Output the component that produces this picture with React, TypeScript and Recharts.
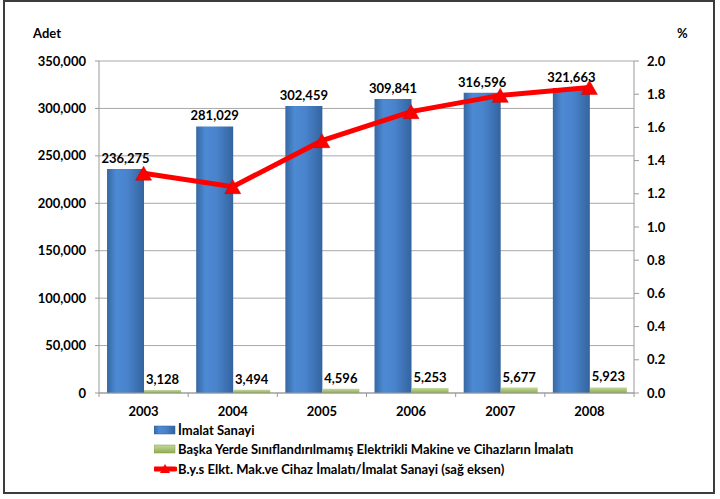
import React from "react";
import {
  ComposedChart,
  Bar,
  Line,
  XAxis,
  YAxis,
  CartesianGrid,
  Legend,
  LabelList,
} from "recharts";

const years = ["2003", "2004", "2005", "2006", "2007", "2008"];
const imalatSanayi = [236275, 281029, 302459, 309841, 316596, 321663];
const elektrikli = [3128, 3494, 4596, 5253, 5677, 5923];
const oran = [1.324, 1.243, 1.52, 1.695, 1.793, 1.841];
const leftTicks = [0, 50000, 100000, 150000, 200000, 250000, 300000, 350000];
const rightTicks = [0, 0.2, 0.4, 0.6, 0.8, 1.0, 1.2, 1.4, 1.6, 1.8, 2.0];

const seriesNames = [
  "İmalat Sanayi",
  "Başka Yerde Sınıflandırılmamış Elektrikli Makine ve Cihazların İmalatı",
  "B.y.s Elkt. Mak.ve Cihaz İmalatı/İmalat Sanayi (sağ eksen)",
];

const data = years.map((y, i) => ({
  year: y,
  imalat: imalatSanayi[i],
  elk: elektrikli[i],
  oran: oran[i],
}));

const FONT = "Lato, 'Open Sans', sans-serif";
const FS = 13;
const fmt = (v: number) => v.toLocaleString("en-US");

const Triangle = (props: any) => {
  const { cx, cy } = props;
  if (cx == null || cy == null) return null;
  return (
    <path
      d={`M${cx},${cy - 7} L${cx + 8},${cy + 7} L${cx - 8},${cy + 7} Z`}
      fill="#ff0000"
      stroke="#d00000"
      strokeWidth={0.5}
    />
  );
};

const XTick = (props: any) => {
  const { x, y, payload, index } = props;
  const half = payload && payload.offset ? payload.offset : 44.6;
  return (
    <g>
      <line x1={x - half} x2={x - half} y1={y - 8} y2={y - 4} stroke="#999" />
      {index === years.length - 1 && (
        <line x1={x + half} x2={x + half} y1={y - 8} y2={y - 4} stroke="#999" />
      )}
      <text
        x={x}
        y={y + 15}
        textAnchor="middle"
        fontFamily={FONT}
        fontWeight={700}
        fontSize={FS}
        fill="#000"
      >
        {payload.value}
      </text>
    </g>
  );
};

const LegendContent = () => (
  <div
    style={{
      height: 79,
      fontFamily: FONT,
      fontWeight: 700,
      fontSize: FS,
      color: "#000",
      boxSizing: "border-box",
    }}
  >
    {seriesNames.map((n, i) => (
      <div
        key={n}
        style={{ display: "flex", alignItems: "center", height: 19.5, whiteSpace: "nowrap" }}
      >
        <svg width={23} height={14} style={{ marginRight: 1, flex: "none" }}>
          {i === 0 && <rect x={0} y={3} width={21} height={8} fill="url(#gBlue)" stroke="#2f5e9e" strokeWidth={0.5} />}
          {i === 1 && <rect x={0} y={3} width={21} height={8} fill="url(#gGreen)" stroke="#7f9a45" strokeWidth={0.5} />}
          {i === 2 && (
            <g>
              <line x1={1} x2={21} y1={7} y2={7} stroke="#ff0000" strokeWidth={5} strokeLinecap="round" />
              <path d="M11,2 L16,11 L6,11 Z" fill="#ff0000" />
            </g>
          )}
        </svg>
        <span>{n}</span>
      </div>
    ))}
  </div>
);

export default function App() {
  return (
    <div
      style={{
        position: "absolute",
        left: 0,
        top: 0,
        width: 720,
        height: 499,
        background: "#fff",
      }}
    >
      <div
        style={{
          position: "absolute",
          left: 3,
          top: 0,
          width: 712,
          height: 494,
          border: "2px solid #3c3c3c",
          boxSizing: "border-box",
        }}
      />
      <div
        style={{
          position: "absolute",
          left: 33,
          top: 25,
          fontFamily: FONT,
          fontWeight: 700,
          fontSize: FS,
        }}
      >
        Adet
      </div>
      <div
        style={{
          position: "absolute",
          left: 677,
          top: 25,
          fontFamily: FONT,
          fontWeight: 700,
          fontSize: FS,
        }}
      >
        %
      </div>
      <div style={{ position: "absolute", left: 0, top: 0 }}>
        <ComposedChart
          width={720}
          height={499}
          data={data}
          margin={{ top: 61, right: 0, bottom: 0, left: 0 }}
          barCategoryGap="9%"
          barGap={0}
        >
          <defs>
            <linearGradient id="gBlue" x1="0" y1="0" x2="1" y2="0">
              <stop offset="0%" stopColor="#3668a3" />
              <stop offset="25%" stopColor="#4d8ad4" />
              <stop offset="55%" stopColor="#4983cc" />
              <stop offset="100%" stopColor="#34649f" />
            </linearGradient>
            <linearGradient id="gGreen" x1="0" y1="0" x2="0" y2="1">
              <stop offset="0%" stopColor="#c4d89a" />
              <stop offset="100%" stopColor="#8fae52" />
            </linearGradient>
          </defs>
          <CartesianGrid vertical={false} stroke="#a8a8a8" yAxisId="left" />
          <XAxis
            dataKey="year"
            height={27}
            tick={<XTick />}
            tickLine={false}
            axisLine={{ stroke: "#999" }}
            interval={0}
          />
          <YAxis
            yAxisId="left"
            width={99}
            domain={[0, 350000]}
            ticks={leftTicks}
            tickFormatter={fmt}
            tickSize={4}
            tickMargin={9}
            tickLine={{ stroke: "#999" }}
            axisLine={{ stroke: "#999" }}
            tick={{ fontFamily: FONT, fontWeight: 700, fontSize: FS, fill: "#000" }}
            interval={0}
          />
          <YAxis
            yAxisId="right"
            orientation="right"
            width={86}
            domain={[0, 2]}
            ticks={rightTicks}
            tickFormatter={(v: number) => v.toFixed(1)}
            tickSize={5}
            tickMargin={8}
            tickLine={{ stroke: "#999" }}
            axisLine={{ stroke: "#999" }}
            tick={{ fontFamily: FONT, fontWeight: 700, fontSize: FS, fill: "#000" }}
            interval={0}
          />
          <Legend
            verticalAlign="bottom"
            align="left"
            layout="horizontal"
            content={<LegendContent />}
            wrapperStyle={{ left: 154, width: 560, bottom: 0 }}
          />
          <Bar
            yAxisId="left"
            dataKey="imalat"
            name={seriesNames[0]}
            fill="url(#gBlue)"
            isAnimationActive={false}
          >
            <LabelList
              dataKey="imalat"
              position="top"
              offset={6}
              formatter={(v: any) => fmt(Number(v))}
              style={{ fontFamily: FONT, fontWeight: 700, fontSize: FS, fill: "#000" }}
            />
          </Bar>
          <Bar
            yAxisId="left"
            dataKey="elk"
            name={seriesNames[1]}
            fill="url(#gGreen)"
            isAnimationActive={false}
          >
            <LabelList
              dataKey="elk"
              position="top"
              offset={6}
              formatter={(v: any) => fmt(Number(v))}
              style={{ fontFamily: FONT, fontWeight: 700, fontSize: FS, fill: "#000" }}
            />
          </Bar>
          <Line
            yAxisId="right"
            dataKey="oran"
            name={seriesNames[2]}
            stroke="#ff0000"
            strokeWidth={5}
            dot={<Triangle />}
            activeDot={false}
            isAnimationActive={false}
          />
        </ComposedChart>
      </div>
    </div>
  );
}
